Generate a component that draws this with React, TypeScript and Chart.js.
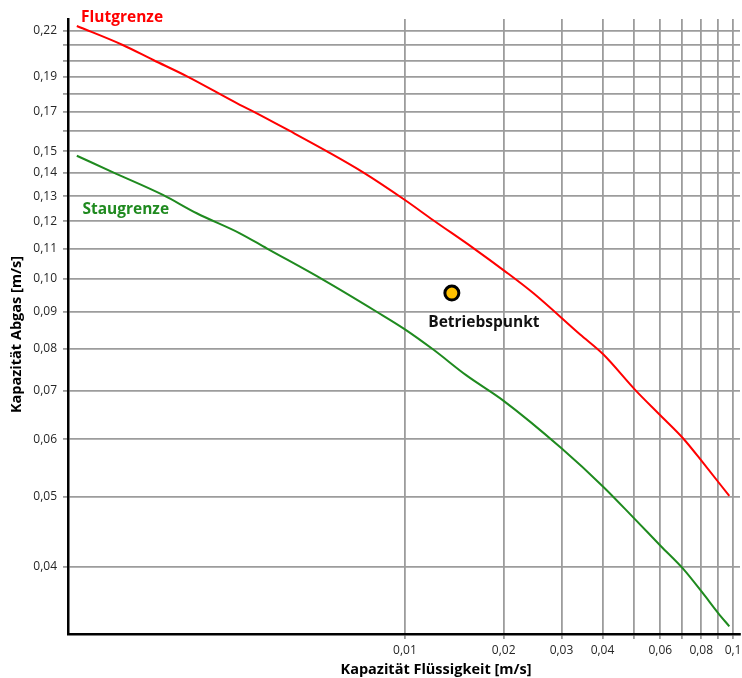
import { useEffect, useRef } from 'react';
import { Chart, registerables } from 'chart.js';

Chart.register(...registerables);

// Flutgrenze (flooding limit)
const flutX = [0.001, 0.00138, 0.00171, 0.00216, 0.00314, 0.00349, 0.00446, 0.00577, 0.00746, 0.01, 0.0122, 0.0162, 0.0201, 0.0246, 0.0342, 0.0402, 0.0503, 0.0599, 0.0706, 0.0812, 0.0974];
const flutY = [0.2233, 0.2102, 0.2004, 0.1904, 0.1738, 0.1697, 0.1599, 0.15, 0.1402, 0.1284, 0.1204, 0.1101, 0.1025, 0.0955, 0.0837, 0.0786, 0.0702, 0.0648, 0.0601, 0.0556, 0.0501];

// Staugrenze (loading limit)
const stauX = [0.001, 0.00129, 0.00183, 0.00232, 0.00314, 0.00379, 0.00564, 0.0082, 0.01, 0.0122, 0.0154, 0.0199, 0.03, 0.0402, 0.0503, 0.0603, 0.0706, 0.0808, 0.0902, 0.0974];
const stauY = [0.1478, 0.1402, 0.1305, 0.1231, 0.1155, 0.1101, 0.0996, 0.09, 0.0851, 0.0798, 0.0735, 0.0679, 0.0583, 0.0516, 0.0465, 0.0427, 0.0397, 0.0368, 0.0345, 0.0331];

// Betriebspunkt (operating point)
const betriebX = [0.0139];
const betriebY = [0.0955];

// Axis ticks
const xTickValues = [0.01, 0.02, 0.03, 0.04, 0.05, 0.06, 0.07, 0.08, 0.09, 0.1];
const xTickLabels = ['0,01', '0,02', '0,03', '0,04', '', '0,06', '', '0,08', '', '0,1'];
const yTickValues = [0.04, 0.05, 0.06, 0.07, 0.08, 0.09, 0.1, 0.11, 0.12, 0.13, 0.14, 0.15, 0.16, 0.17, 0.18, 0.19, 0.2, 0.21, 0.22];
const yTickLabels = ['0,04', '0,05', '0,06', '0,07', '0,08', '0,09', '0,10', '0,11', '0,12', '0,13', '0,14', '0,15', '', '0,17', '', '0,19', '', '', '0,22'];

const xRange = [0.00094, 0.105];
const yRange = [0.0323, 0.2283];

// label anchors (data coordinates)
const flutLabelPos = [0.00103, 0.2262];
const stauLabelPos = [0.00104, 0.1228];

const FONT = '"Open Sans", "DejaVu Sans", sans-serif';

const zeroPadding = () => ({ left: 0, top: 0, right: 0, bottom: 0 });

export default function App() {
  const ref = useRef<HTMLCanvasElement | null>(null);

  useEffect(() => {
    document.body.style.margin = '0';
    const canvas = ref.current;
    if (!canvas) return;

    const textPlugin = {
      id: 'texts',
      afterDraw(chart: any) {
        const ctx = chart.ctx as CanvasRenderingContext2D;
        const xs = chart.scales.x;
        const ys = chart.scales.y;
        const area = chart.chartArea;
        ctx.save();
        ctx.textBaseline = 'alphabetic';
        ctx.textAlign = 'left';
        ctx.font = `bold 15.5px ${FONT}`;
        ctx.fillStyle = '#ff0000';
        ctx.fillText('Flutgrenze', xs.getPixelForValue(flutLabelPos[0]), ys.getPixelForValue(flutLabelPos[1]));
        ctx.fillStyle = '#1f8a1f';
        ctx.fillText('Staugrenze', xs.getPixelForValue(stauLabelPos[0]), ys.getPixelForValue(stauLabelPos[1]));
        ctx.fillStyle = '#111';
        ctx.textAlign = 'center';
        ctx.fillText('Betriebspunkt', xs.getPixelForValue(betriebX[0]) + 32, ys.getPixelForValue(betriebY[0]) + 34);

        ctx.font = `bold 14.5px ${FONT}`;
        ctx.fillStyle = '#000';
        ctx.fillText('Kapazität Flüssigkeit [m/s]', (area.left + area.right) / 2 + 32, 674);
        ctx.translate(17, (area.top + area.bottom) / 2 + 8);
        ctx.rotate(-Math.PI / 2);
        ctx.textBaseline = 'middle';
        ctx.fillText('Kapazität Abgas [m/s]', 0, 0);
        ctx.restore();
      },
    };

    const chart = new Chart(canvas, {
      type: 'line',
      data: {
        datasets: [
          {
            label: 'Flutgrenze',
            data: flutX.map((x, i) => ({ x, y: flutY[i] })),
            borderColor: '#ff0000',
            borderWidth: 2,
            pointRadius: 0,
            fill: false,
            cubicInterpolationMode: 'monotone',
          },
          {
            label: 'Staugrenze',
            data: stauX.map((x, i) => ({ x, y: stauY[i] })),
            borderColor: '#1f8a1f',
            borderWidth: 2,
            pointRadius: 0,
            fill: false,
            cubicInterpolationMode: 'monotone',
          },
          {
            label: 'Betriebspunkt',
            data: betriebX.map((x, i) => ({ x, y: betriebY[i] })),
            showLine: false,
            pointRadius: 7,
            pointBackgroundColor: '#ffc000',
            pointBorderColor: '#000',
            pointBorderWidth: 3,
          },
        ],
      },
      options: {
        animation: false,
        responsive: false,
        layout: { autoPadding: false, padding: { top: 19, right: 2, left: 0, bottom: 0 } },
        plugins: {
          legend: { display: false },
          tooltip: { enabled: false },
        },
        scales: {
          x: {
            type: 'logarithmic',
            bounds: 'data',
            min: xRange[0],
            max: xRange[1],
            afterBuildTicks: (scale: any) => {
              scale.ticks = xTickValues.map((v) => ({ value: v }));
            },
            afterFit: (scale: any) => {
              scale.height = 44;
              scale.paddingLeft = 0;
              scale.paddingRight = 0;
              scale.getPadding = zeroPadding;
            },
            ticks: {
              autoSkip: false,
              maxRotation: 0,
              padding: 4,
              color: '#262626',
              font: { family: FONT, size: 12 },
              callback: (_v: any, i: number) => xTickLabels[i],
            },
            grid: { color: '#9c9c9c', lineWidth: 1.8, tickLength: 5, tickColor: '#9c9c9c' },
            border: { color: '#000', width: 2.5 },
          },
          y: {
            type: 'logarithmic',
            bounds: 'data',
            min: yRange[0],
            max: yRange[1],
            afterBuildTicks: (scale: any) => {
              scale.ticks = yTickValues.map((v) => ({ value: v }));
            },
            afterFit: (scale: any) => {
              scale.width = 68;
              scale.paddingTop = 0;
              scale.paddingBottom = 0;
              scale.getPadding = zeroPadding;
            },
            ticks: {
              autoSkip: false,
              padding: 6,
              color: '#262626',
              font: { family: FONT, size: 12 },
              callback: (_v: any, i: number) => yTickLabels[i],
            },
            grid: { color: '#9c9c9c', lineWidth: 1.8, tickLength: 5, tickColor: '#9c9c9c' },
            border: { color: '#000', width: 2.5 },
          },
        },
      },
      plugins: [textPlugin],
    });

    return () => chart.destroy();
  }, []);

  return (
    <div style={{ width: 742, height: 678 }}>
      <canvas ref={ref} width={742} height={678} style={{ display: 'block' }} />
    </div>
  );
}
